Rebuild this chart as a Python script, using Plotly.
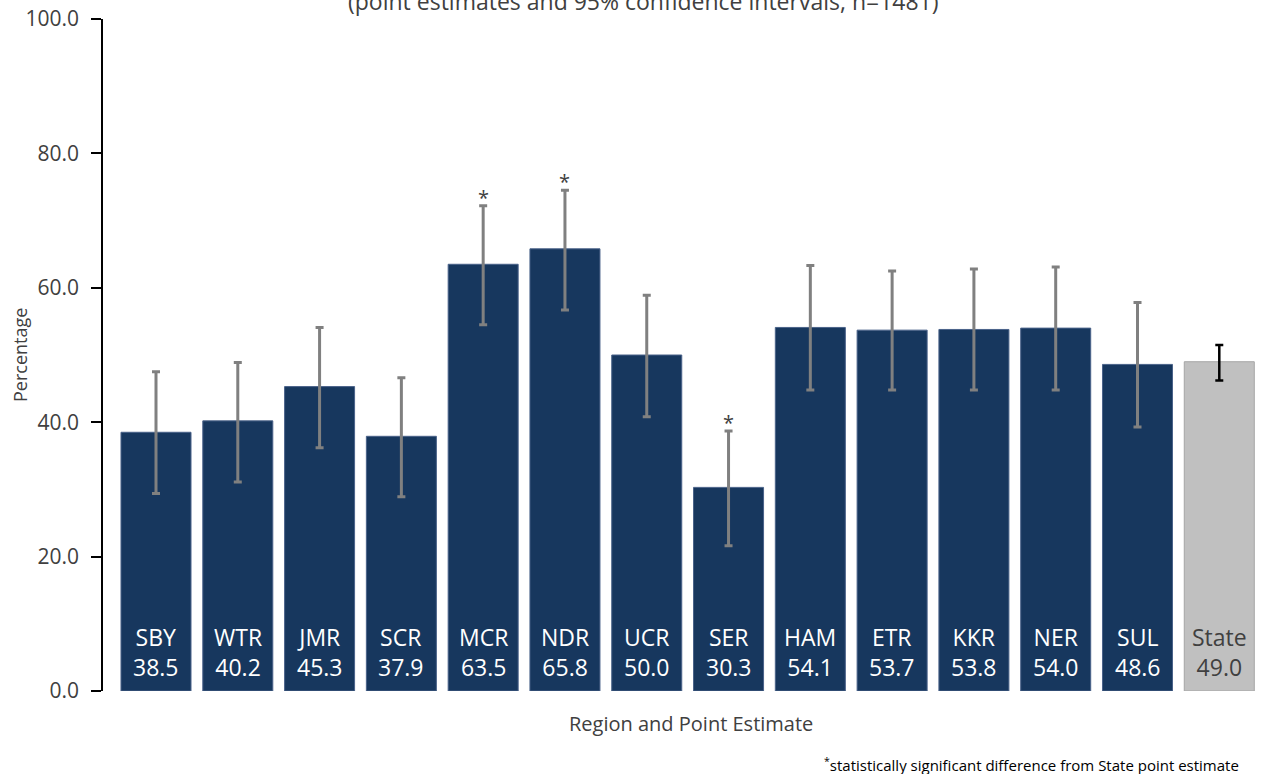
import plotly.graph_objects as go

regions = ["SBY", "WTR", "JMR", "SCR", "MCR", "NDR", "UCR", "SER", "HAM", "ETR", "KKR", "NER", "SUL"]
values = [38.5, 40.2, 45.3, 37.9, 63.5, 65.8, 50.0, 30.3, 54.1, 53.7, 53.8, 54.0, 48.6]
ci_upper = [47.5, 48.9, 54.1, 46.6, 72.2, 74.5, 58.9, 38.7, 63.3, 62.5, 62.8, 63.1, 57.8]
ci_lower = [29.4, 31.1, 36.2, 28.9, 54.5, 56.7, 40.8, 21.6, 44.8, 44.8, 44.8, 44.8, 39.3]
significant = [False, False, False, False, True, True, False, True, False, False, False, False, False]

state_label = "State"
state_value = 49.0
state_upper = 51.5
state_lower = 46.2

yticks = [0, 20, 40, 60, 80, 100]

FONT = "Open Sans"
NAVY = "#17375e"
BAR_W = 0.856

fig = go.Figure()

fig.add_trace(go.Bar(
    x=regions, y=values, width=BAR_W,
    marker=dict(color=NAVY, line=dict(color="#4a6289", width=1)),
    error_y=dict(type="data", symmetric=False,
                 array=[u - v for u, v in zip(ci_upper, values)],
                 arrayminus=[v - l for v, l in zip(values, ci_lower)],
                 color="#808080", thickness=3, width=4),
    hoverinfo="skip", showlegend=False,
))

fig.add_trace(go.Bar(
    x=[state_label], y=[state_value], width=BAR_W,
    marker=dict(color="#c0c0c0", line=dict(color="#a6a6a6", width=1)),
    error_y=dict(type="data", symmetric=False,
                 array=[state_upper - state_value],
                 arrayminus=[state_value - state_lower],
                 color="#000000", thickness=2.5, width=4),
    hoverinfo="skip", showlegend=False,
))

annotations = []


def bar_label(cat, val, color):
    return dict(x=cat, y=0, xref="x", yref="y", yanchor="middle", yshift=39,
                showarrow=False, align="center", text=f"{cat}<br>{val:.1f}",
                font=dict(family=FONT, size=23, color=color))


for r, v in zip(regions, values):
    annotations.append(bar_label(r, v, "white"))
annotations.append(bar_label(state_label, state_value, "#404040"))

for r, u, s in zip(regions, ci_upper, significant):
    if s:
        annotations.append(dict(x=r, y=u, xref="x", yref="y", yanchor="bottom",
                                yshift=-7, showarrow=False, text="*",
                                font=dict(family=FONT, size=20, color="#404040")))

annotations += [
    dict(x=0.5, y=1, xref="paper", yref="paper", yanchor="middle", yshift=18,
         xshift=-39, showarrow=False,
         text="(point estimates and 95% confidence intervals, n=1481)",
         font=dict(family=FONT, size=23, color="#404040")),
    dict(x=0.5, y=0, xref="paper", yref="paper", yanchor="middle", yshift=-32,
         xshift=9, showarrow=False, text="Region and Point Estimate",
         font=dict(family=FONT, size=20, color="#404040")),
    dict(x=0, y=0.5, xref="paper", yref="paper", xanchor="center",
         xshift=-83, textangle=-90, showarrow=False, text="Percentage",
         font=dict(family=FONT, size=18, color="#404040")),
    dict(x=1, y=0, xref="paper", yref="paper", xanchor="right", yanchor="middle",
         xshift=-20, yshift=-73, showarrow=False,
         text="<sup>*</sup>statistically significant difference from State point estimate",
         font=dict(family=FONT, size=15, color="#000000")),
]

fig.update_layout(
    width=1261, height=774,
    margin=dict(l=103, r=0, t=19, b=83),
    plot_bgcolor="white", paper_bgcolor="white",
    barmode="overlay",
    annotations=annotations,
    font=dict(family=FONT),
)
fig.update_xaxes(
    categoryorder="array", categoryarray=regions + [state_label],
    range=[-0.648, 13.51], showticklabels=False, showgrid=False,
    showline=False, zeroline=False, ticks="",
)
fig.update_yaxes(
    range=[0, 100], tickvals=yticks, tickformat=".1f",
    showgrid=False, zeroline=False, showline=True, linecolor="black",
    linewidth=1.5, ticks="outside", ticklen=10, tickcolor="black", tickwidth=1.5,
    ticklabelstandoff=8, ticklabeloverflow="allow",
    tickfont=dict(family=FONT, size=21, color="#404040"),
)

fig.write_html("out.html", config={"displayModeBar": False},
               post_script="document.body.style.margin='0';")
